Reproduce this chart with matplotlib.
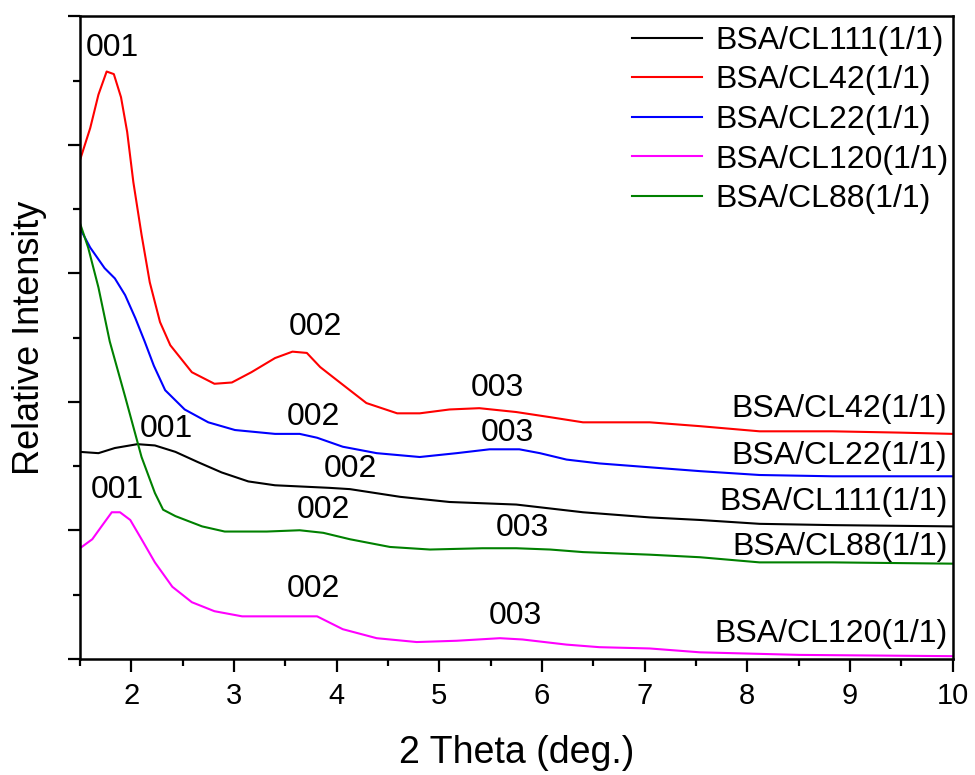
import numpy as np
import matplotlib.pyplot as plt
from matplotlib.ticker import MultipleLocator, NullFormatter

plt.rcParams['font.family'] = ['Liberation Sans', 'DejaVu Sans']

# values (arbitrary intensity units, stacked)
x_cl111 = [1.50, 1.68, 1.84, 2.06, 2.23, 2.43, 2.65, 2.88, 3.14, 3.40, 3.93, 4.13,
           4.62, 5.10, 5.75, 6.40, 7.05, 7.54, 8.12, 8.83, 10.0]
y_cl111 = [1.61, 1.60, 1.64, 1.67, 1.66, 1.61, 1.53, 1.45, 1.38, 1.35, 1.33, 1.32,
           1.26, 1.22, 1.20, 1.14, 1.10, 1.08, 1.05, 1.04, 1.03]

x_cl42 = [1.50, 1.60, 1.68, 1.76, 1.83, 1.90, 1.96, 2.02, 2.10, 2.18, 2.28, 2.38, 2.59,
          2.81, 2.98, 3.17, 3.40, 3.57, 3.71, 3.84, 4.00, 4.29, 4.59, 4.81, 5.10, 5.39,
          5.75, 6.08, 6.40, 7.05, 7.54, 8.12, 8.83, 9.48, 10.0]
y_cl42 = [3.88, 4.13, 4.39, 4.57, 4.55, 4.37, 4.10, 3.71, 3.30, 2.93, 2.62, 2.44, 2.23,
          2.14, 2.15, 2.23, 2.34, 2.39, 2.38, 2.27, 2.17, 1.99, 1.91, 1.91, 1.94, 1.95,
          1.92, 1.88, 1.84, 1.84, 1.81, 1.77, 1.77, 1.76, 1.75]

x_cl22 = [1.50, 1.60, 1.74, 1.84, 1.94, 2.04, 2.13, 2.22, 2.33, 2.52, 2.75, 3.01, 3.40,
          3.64, 3.81, 4.06, 4.39, 4.81, 5.17, 5.49, 5.78, 5.98, 6.24, 6.56, 7.05, 7.54,
          8.12, 8.83, 10.0]
y_cl22 = [3.35, 3.20, 3.04, 2.96, 2.83, 2.65, 2.47, 2.28, 2.09, 1.94, 1.84, 1.78, 1.75,
          1.75, 1.72, 1.65, 1.60, 1.57, 1.60, 1.63, 1.63, 1.60, 1.55, 1.52, 1.49, 1.46,
          1.43, 1.42, 1.42]

x_cl120 = [1.50, 1.62, 1.71, 1.81, 1.89, 1.99, 2.10, 2.23, 2.40, 2.59, 2.81, 3.08, 3.40,
           3.64, 3.81, 4.06, 4.39, 4.78, 5.17, 5.59, 5.81, 6.24, 6.56, 7.05, 7.54, 8.51, 10.0]
y_cl120 = [0.86, 0.93, 1.03, 1.14, 1.14, 1.08, 0.93, 0.75, 0.56, 0.44, 0.37, 0.33, 0.33,
           0.33, 0.33, 0.23, 0.16, 0.13, 0.14, 0.16, 0.15, 0.11, 0.09, 0.08, 0.05, 0.03, 0.02]

x_cl88 = [1.50, 1.58, 1.68, 1.79, 1.94, 2.10, 2.23, 2.31, 2.43, 2.69, 2.91, 3.32, 3.64,
          3.87, 4.13, 4.52, 4.91, 5.42, 5.75, 6.08, 6.40, 7.05, 7.54, 8.12, 8.83, 10.0]
y_cl88 = [3.39, 3.20, 2.89, 2.47, 2.04, 1.57, 1.29, 1.16, 1.11, 1.03, 0.99, 0.99, 1.00,
          0.98, 0.93, 0.87, 0.85, 0.86, 0.86, 0.85, 0.83, 0.81, 0.79, 0.75, 0.75, 0.74]

names = ['BSA/CL111(1/1)', 'BSA/CL42(1/1)', 'BSA/CL22(1/1)', 'BSA/CL120(1/1)', 'BSA/CL88(1/1)']
colors = ['black', '#ff0000', '#0000ff', '#ff00ff', '#008000']

# peak labels: (text, x, y)
peaks = [('001', 1.82, 4.75), ('002', 3.79, 2.58), ('003', 5.57, 2.11),
         ('002', 3.77, 1.88), ('003', 5.66, 1.76),
         ('001', 2.34, 1.79), ('002', 4.13, 1.48),
         ('002', 3.87, 1.16), ('003', 5.81, 1.02),
         ('001', 1.86, 1.31), ('002', 3.77, 0.54), ('003', 5.74, 0.33)]

# sample names at the right end of each trace
end_names = ['BSA/CL42(1/1)', 'BSA/CL22(1/1)', 'BSA/CL111(1/1)', 'BSA/CL88(1/1)', 'BSA/CL120(1/1)']
end_y = [1.94, 1.58, 1.22, 0.87, 0.19]

fig = plt.figure(figsize=(9.75, 7.75), dpi=100)
ax = fig.add_axes([0.082, 0.150, 0.895, 0.829])

series = [(x_cl111, y_cl111), (x_cl42, y_cl42), (x_cl22, y_cl22),
          (x_cl120, y_cl120), (x_cl88, y_cl88)]
for (xs, ys), name, c in zip(series, names, colors):
    ax.plot(xs, ys, color=c, lw=1.5, label=name)

for t, px, py in peaks:
    ax.text(px, py, t, fontsize=23, ha='center', va='center')
for t, py in zip(end_names, end_y):
    ax.text(9.95, py, t, fontsize=23, ha='right', va='center')

ax.set_xlim(1.5, 10)
ax.set_ylim(0, 5)
ax.xaxis.set_major_locator(MultipleLocator(1))
ax.xaxis.set_minor_locator(MultipleLocator(0.5))
ax.yaxis.set_major_locator(MultipleLocator(1))
ax.yaxis.set_minor_locator(MultipleLocator(0.5))
ax.yaxis.set_major_formatter(NullFormatter())
ax.tick_params(which='major', direction='out', length=9, width=1.6, labelsize=21)
ax.tick_params(which='minor', direction='out', length=5, width=1.6)
ax.tick_params(axis='x', pad=8)
for s in ax.spines.values():
    s.set_linewidth(1.8)

ax.set_xlabel('2 Theta (deg.)', fontsize=27, labelpad=18)
ax.set_ylabel('Relative Intensity', fontsize=26, labelpad=11)

ax.legend(loc='upper right', bbox_to_anchor=(1.006, 1.0), frameon=False, fontsize=23,
          handlelength=2.2, handletextpad=0.4, labelspacing=0.3, borderaxespad=0,
          borderpad=0.3)

fig.savefig('out.png', dpi=100)
